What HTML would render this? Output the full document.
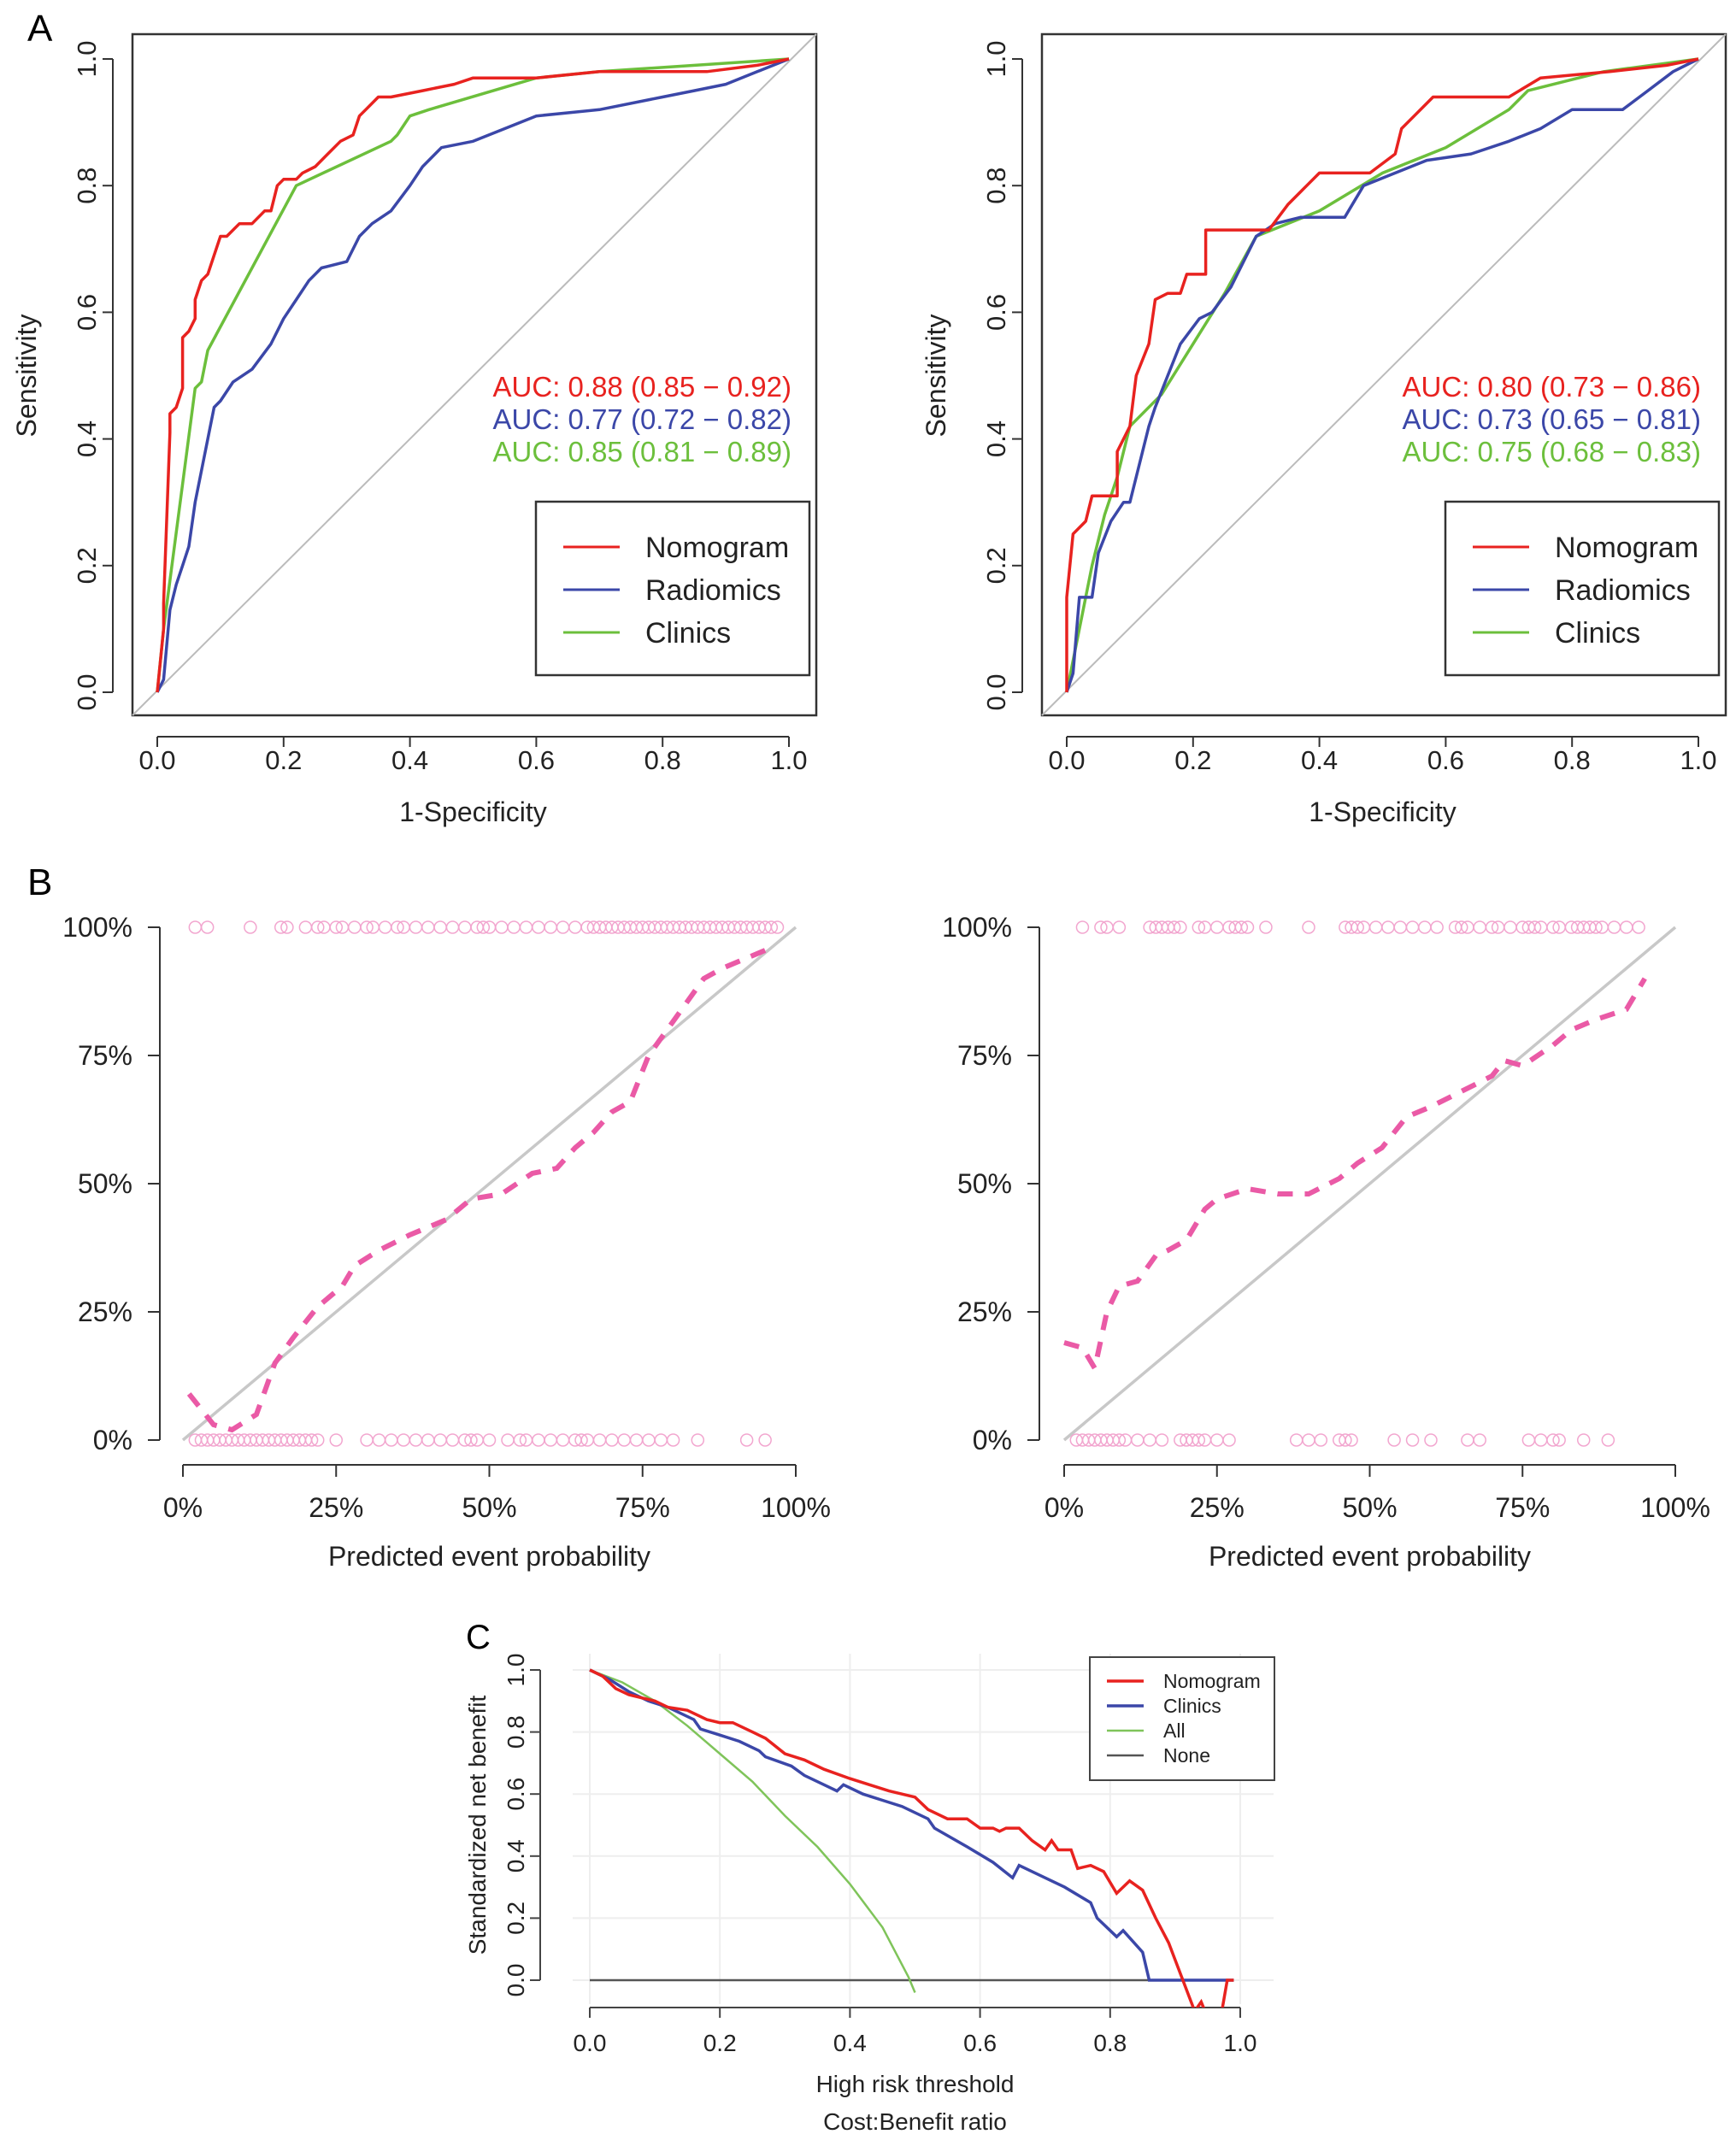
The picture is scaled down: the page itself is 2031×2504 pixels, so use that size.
<!DOCTYPE html>
<html><head><meta charset="utf-8"><style>
body{margin:0;background:#fff;}
svg{display:block;font-family:"Liberation Sans",Arial,sans-serif;}
</style></head><body>
<svg id="fig" width="2031" height="2504" viewBox="0 0 2031 2504" xmlns="http://www.w3.org/2000/svg">
<defs><clipPath id="dcaclip"><rect x="630" y="1930" width="860" height="419"/></clipPath></defs>
<text x="32" y="48" font-size="44">A</text>
<text x="32" y="1047" font-size="44">B</text>
<text x="545" y="1929" font-size="40">C</text>
<g id="g"></g>
</svg>
<script>
// ---------- ROC data ----------
const rocL_nom_x=[0,0.01,0.01,0.02,0.02,0.03,0.04,0.04,0.05,0.06,0.06,0.07,0.08,0.09,0.1,0.11,0.13,0.15,0.17,0.18,0.19,0.2,0.22,0.23,0.25,0.27,0.29,0.31,0.32,0.33,0.35,0.37,0.42,0.47,0.5,0.6,0.7,0.87,0.95,1];
const rocL_nom_y=[0,0.1,0.14,0.41,0.44,0.45,0.48,0.56,0.57,0.59,0.62,0.65,0.66,0.69,0.72,0.72,0.74,0.74,0.76,0.76,0.8,0.81,0.81,0.82,0.83,0.85,0.87,0.88,0.91,0.92,0.94,0.94,0.95,0.96,0.97,0.97,0.98,0.98,0.99,1];
const rocL_rad_x=[0,0.01,0.02,0.03,0.04,0.05,0.06,0.07,0.08,0.09,0.1,0.12,0.15,0.18,0.2,0.22,0.24,0.26,0.3,0.32,0.34,0.37,0.4,0.42,0.45,0.5,0.55,0.6,0.7,0.8,0.85,0.9,0.95,1];
const rocL_rad_y=[0,0.02,0.13,0.17,0.2,0.23,0.3,0.35,0.4,0.45,0.46,0.49,0.51,0.55,0.59,0.62,0.65,0.67,0.68,0.72,0.74,0.76,0.8,0.83,0.86,0.87,0.89,0.91,0.92,0.94,0.95,0.96,0.98,1];
const rocL_cli_x=[0,0.01,0.06,0.07,0.08,0.22,0.37,0.38,0.4,0.43,0.6,0.7,1];
const rocL_cli_y=[0,0.1,0.48,0.49,0.54,0.8,0.87,0.88,0.91,0.92,0.97,0.98,1];
const rocR_nom_x=[0,0,0.01,0.03,0.04,0.08,0.08,0.1,0.11,0.13,0.14,0.16,0.18,0.19,0.22,0.22,0.32,0.35,0.38,0.4,0.48,0.52,0.53,0.55,0.58,0.7,0.75,0.86,0.95,1];
const rocR_nom_y=[0,0.15,0.25,0.27,0.31,0.31,0.38,0.42,0.5,0.55,0.62,0.63,0.63,0.66,0.66,0.73,0.73,0.77,0.8,0.82,0.82,0.85,0.89,0.91,0.94,0.94,0.97,0.98,0.99,1];
const rocR_rad_x=[0,0.01,0.02,0.04,0.05,0.07,0.09,0.1,0.11,0.12,0.13,0.14,0.16,0.18,0.21,0.23,0.26,0.28,0.3,0.33,0.37,0.44,0.47,0.52,0.57,0.64,0.7,0.75,0.8,0.88,0.92,0.96,1];
const rocR_rad_y=[0,0.03,0.15,0.15,0.22,0.27,0.3,0.3,0.34,0.38,0.42,0.45,0.5,0.55,0.59,0.6,0.64,0.68,0.72,0.74,0.75,0.75,0.8,0.82,0.84,0.85,0.87,0.89,0.92,0.92,0.95,0.98,1];
const rocR_cli_x=[0,0.02,0.04,0.06,0.08,0.1,0.15,0.2,0.25,0.3,0.4,0.5,0.6,0.7,0.73,0.85,1];
const rocR_cli_y=[0,0.1,0.2,0.28,0.34,0.42,0.47,0.55,0.63,0.72,0.76,0.82,0.86,0.92,0.95,0.98,1];
const rocTicks=[0,0.2,0.4,0.6,0.8,1.0];
const rocTickLabels=["0.0","0.2","0.4","0.6","0.8","1.0"];
const aucL=["AUC: 0.88 (0.85 − 0.92)","AUC: 0.77 (0.72 − 0.82)","AUC: 0.85 (0.81 − 0.89)"];
const aucR=["AUC: 0.80 (0.73 − 0.86)","AUC: 0.73 (0.65 − 0.81)","AUC: 0.75 (0.68 − 0.83)"];
// ---------- Calibration data ----------
const calL_x=[1,3,5,8,12,15,18,22,26,28,32,37,43,47,52,57,61,64,67,70,73,76,79,82,85,88,92,96];
const calL_y=[9,6,3,2,5,15,20,26,30,34,37,40,43,47,48,52,53,57,60,64,66,75,80,85,90,92,94,96];
const calR_x=[0,3,5,7,9,12,15,17,20,23,25,30,35,40,45,48,52,56,60,65,70,72,75,80,83,87,92,95];
const calR_y=[19,18,14,25,30,31,36,37,39,45,47,49,48,48,51,54,57,63,65,68,71,74,73,77,80,82,84,90];
const rugL_top=[2,4,11,16,17,20,22,23,25,26,28,30,31,33,35,36,38,40,42,44,46,48,49,50,52,54,56,58,60,62,64,66,67,68,69,70,71,72,73,74,75,76,77,78,79,80,81,82,83,84,85,86,87,88,89,90,91,92,93,94,95,96,97];
const rugL_bot=[2,3,4,5,6,7,8,9,10,11,12,13,14,15,16,17,18,19,20,21,22,25,30,32,34,36,38,40,42,44,46,47,48,50,53,55,56,58,60,62,64,65,66,68,70,72,74,76,78,80,84,92,95];
const rugR_top=[3,6,7,9,14,15,16,17,18,19,22,23,25,27,28,29,30,33,40,46,47,48,49,51,53,55,57,59,61,64,65,66,68,70,71,73,75,76,77,78,80,81,83,84,85,86,87,88,90,92,94];
const rugR_bot=[2,3,4,5,6,7,8,9,10,12,14,16,19,20,21,22,23,25,27,38,40,42,45,46,47,54,57,60,66,68,76,78,80,81,85,89];
const calTicks=[0,25,50,75,100];
const calTickLabels=["0%","25%","50%","75%","100%"];
// ---------- DCA data ----------
const dcaNom_x=[0,0.02,0.04,0.06,0.08,0.1,0.12,0.15,0.18,0.2,0.22,0.25,0.27,0.3,0.33,0.36,0.4,0.43,0.46,0.48,0.5,0.52,0.55,0.58,0.6,0.62,0.63,0.64,0.66,0.68,0.7,0.71,0.72,0.74,0.75,0.77,0.79,0.81,0.83,0.85,0.87,0.89,0.91,0.93,0.94,0.95,0.97,0.98,0.99];
const dcaNom_y=[1,0.98,0.94,0.92,0.91,0.9,0.88,0.87,0.84,0.83,0.83,0.8,0.78,0.73,0.71,0.68,0.65,0.63,0.61,0.6,0.59,0.55,0.52,0.52,0.49,0.49,0.48,0.49,0.49,0.45,0.42,0.45,0.42,0.42,0.36,0.37,0.35,0.28,0.32,0.29,0.2,0.12,0.01,-0.1,-0.07,-0.12,-0.12,0,0];
const dcaCli_x=[0,0.03,0.06,0.09,0.12,0.16,0.17,0.2,0.23,0.26,0.27,0.31,0.33,0.37,0.38,0.39,0.42,0.45,0.48,0.52,0.53,0.58,0.62,0.65,0.66,0.7,0.73,0.77,0.78,0.81,0.82,0.85,0.86,0.99];
const dcaCli_y=[1,0.97,0.93,0.9,0.88,0.84,0.81,0.79,0.77,0.74,0.72,0.69,0.66,0.62,0.61,0.63,0.6,0.58,0.56,0.52,0.49,0.43,0.38,0.33,0.37,0.33,0.3,0.25,0.2,0.14,0.16,0.09,0,0];
const dcaAll_x=[0,0.05,0.1,0.15,0.2,0.25,0.3,0.35,0.4,0.45,0.49,0.5];
const dcaAll_y=[1,0.96,0.9,0.82,0.73,0.64,0.53,0.43,0.31,0.17,0.01,-0.04];
const dcaTicks=[0,0.2,0.4,0.6,0.8,1.0];
const dcaTickLabels=["0.0","0.2","0.4","0.6","0.8","1.0"];

const NS="http://www.w3.org/2000/svg";
const G=document.getElementById('g');
function mk(tag,attrs,parent,text){const e=document.createElementNS(NS,tag);for(const k in attrs)e.setAttribute(k,attrs[k]);if(text!==undefined)e.textContent=text;(parent||G).appendChild(e);return e;}
function pathFrom(xs,ys,sx,sy){return xs.map((x,i)=>(i?'L':'M')+sx(x).toFixed(1)+' '+sy(ys[i]).toFixed(1)).join(' ');}

function roc(off,nx,ny,rx,ry,cx,cy,auc,side){
  const sx=v=>184+off+v*739, sy=v=>810-v*741;
  const g=mk('g',{});
  
  
  const box=mk('rect',{x:155+off,y:40,width:800,height:797,fill:'none',stroke:'#333','stroke-width':2.5},g);
  
  const dg=mk('line',{x1:155+off,y1:837,x2:955+off,y2:40,stroke:'#bbb','stroke-width':2},g);
  
  mk('line',{x1:sx(0),y1:862,x2:sx(1),y2:862,stroke:'#333','stroke-width':2},g);
  mk('line',{x1:132+off,y1:sy(0),x2:132+off,y2:sy(1),stroke:'#333','stroke-width':2},g);
  rocTicks.forEach((t,i)=>{
    mk('line',{x1:sx(t),y1:862,x2:sx(t),y2:874,stroke:'#333','stroke-width':2},g);
    const xl=mk('text',{x:sx(t),y:900,'font-size':31,'text-anchor':'middle',fill:'#222'},g,rocTickLabels[i]);
    
    mk('line',{x1:120+off,y1:sy(t),x2:132+off,y2:sy(t),stroke:'#333','stroke-width':2},g);
    const yl=mk('text',{x:0,y:0,'font-size':31,'text-anchor':'middle',fill:'#222',transform:`translate(${112+off},${sy(t)}) rotate(-90)`},g,rocTickLabels[i]);
    
  });
  const xt=mk('text',{x:sx(0.5),y:961,'font-size':32,'text-anchor':'middle',fill:'#222'},g,'1-Specificity');
  
  const yt=mk('text',{x:0,y:0,'font-size':32,'text-anchor':'middle',fill:'#222',transform:`translate(${42+off},${sy(0.5)}) rotate(-90)`},g,'Sensitivity');
  
  const cols=['#e8221f','#3b47a8','#6cbf3c'];
  [[cx,cy,2],[rx,ry,1],[nx,ny,0]].forEach(([xs,ys,c])=>{
    const p=mk('path',{d:pathFrom(xs,ys,sx,sy),fill:'none',stroke:cols[c],'stroke-width':3.5,'stroke-linejoin':'round'},g);
    
    
  });
  auc.forEach((a,i)=>{
    const t=mk('text',{x:926+off,y:464+i*38,'font-size':33,'text-anchor':'end',fill:cols[i]},g,a);
    
  });
  const lg=mk('g',{},g);
  
  mk('rect',{x:627+off,y:587,width:320,height:203,fill:'#fff',stroke:'#333','stroke-width':2.5},lg);
  ['Nomogram','Radiomics','Clinics'].forEach((n,i)=>{
    const y=640+i*50;
    mk('line',{x1:659+off,y1:y,x2:725+off,y2:y,stroke:cols[i],'stroke-width':3},lg);
    const t=mk('text',{x:755+off,y:y+12,'font-size':34,fill:'#222'},lg,n);
    
  });
}
roc(0,rocL_nom_x,rocL_nom_y,rocL_rad_x,rocL_rad_y,rocL_cli_x,rocL_cli_y,aucL,'training');
roc(1064,rocR_nom_x,rocR_nom_y,rocR_rad_x,rocR_rad_y,rocR_cli_x,rocR_cli_y,aucR,'validation');

function cal(x0,x1,yax,cx,cy,top,bot,side){
  const sx=v=>x0+v/100*(x1-x0), sy=v=>1685-v/100*600;
  const g=mk('g',{});
  
  
  mk('line',{x1:sx(0),y1:1714,x2:sx(100),y2:1714,stroke:'#333','stroke-width':2},g);
  mk('line',{x1:yax,y1:sy(0),x2:yax,y2:sy(100),stroke:'#333','stroke-width':2},g);
  calTicks.forEach((t,i)=>{
    mk('line',{x1:sx(t),y1:1714,x2:sx(t),y2:1728,stroke:'#333','stroke-width':2},g);
    const xl=mk('text',{x:sx(t),y:1775,'font-size':32,'text-anchor':'middle',fill:'#222'},g,calTickLabels[i]);
    
    mk('line',{x1:yax-14,y1:sy(t),x2:yax,y2:sy(t),stroke:'#333','stroke-width':2},g);
    const yl=mk('text',{x:yax-32,y:sy(t)+11,'font-size':32,'text-anchor':'end',fill:'#222'},g,calTickLabels[i]);
    
  });
  const xt=mk('text',{x:sx(50),y:1832,'font-size':32,'text-anchor':'middle',fill:'#222'},g,'Predicted event probability');
  
  const dl=mk('line',{x1:sx(0),y1:sy(0),x2:sx(100),y2:sy(100),stroke:'#c8c8c8','stroke-width':3.5},g);
  
  top.forEach(v=>{const c=mk('circle',{cx:sx(v),cy:sy(100),r:7,fill:'none',stroke:'#f2a6cf','stroke-width':1.5},g);
    });
  bot.forEach(v=>{const c=mk('circle',{cx:sx(v),cy:sy(0),r:7,fill:'none',stroke:'#f2a6cf','stroke-width':1.5},g);
    });
  const p=mk('path',{d:pathFrom(cx,cy,sx,sy),fill:'none',stroke:'#ea5aa6','stroke-width':6,'stroke-dasharray':'18 14'},g);
  
}
cal(214,931,187,calL_x,calL_y,rugL_top,rugL_bot,'training');
cal(1245,1960,1216,calR_x,calR_y,rugR_top,rugR_bot,'validation');

(function(){
  const sx=v=>690+v*761, sy=v=>2317-v*363;
  const g=mk('g',{});
  
  
  [0,0.2,0.4,0.6,0.8,1].forEach(t=>{
    mk('line',{x1:sx(0)-20,y1:sy(t),x2:1490,y2:sy(t),stroke:'#eee','stroke-width':2},g);
    mk('line',{x1:sx(t),y1:1935,x2:sx(t),y2:2345,stroke:'#eee','stroke-width':2},g);
  });
  mk('line',{x1:sx(0),y1:2349,x2:sx(1),y2:2349,stroke:'#444','stroke-width':2},g);
  mk('line',{x1:632,y1:sy(0),x2:632,y2:sy(1),stroke:'#444','stroke-width':2},g);
  dcaTicks.forEach((t,i)=>{
    mk('line',{x1:sx(t),y1:2349,x2:sx(t),y2:2361,stroke:'#444','stroke-width':2},g);
    const xl=mk('text',{x:sx(t),y:2400,'font-size':28,'text-anchor':'middle',fill:'#222'},g,dcaTickLabels[i]);
    
    mk('line',{x1:620,y1:sy(t),x2:632,y2:sy(t),stroke:'#444','stroke-width':2},g);
    const yl=mk('text',{x:0,y:0,'font-size':28,'text-anchor':'middle',fill:'#222',transform:`translate(${613},${sy(t)}) rotate(-90)`},g,dcaTickLabels[i]);
    
  });
  const yt=mk('text',{x:0,y:0,'font-size':28,'text-anchor':'middle',fill:'#222',transform:`translate(568,${sy(0.5)}) rotate(-90)`},g,'Standardized net benefit');
  
  const x1=mk('text',{x:sx(0.5),y:2448,'font-size':28,'text-anchor':'middle',fill:'#222'},g,'High risk threshold');
  
  const x2=mk('text',{x:sx(0.5),y:2492,'font-size':28,'text-anchor':'middle',fill:'#222'},g,'Cost:Benefit ratio');
  
  const cg=mk('g',{'clip-path':'url(#dcaclip)'},g);
  const none=mk('line',{x1:sx(0),y1:sy(0),x2:sx(0.99),y2:sy(0),stroke:'#555','stroke-width':2.5},cg);
  
  const pa=mk('path',{d:pathFrom(dcaAll_x,dcaAll_y,sx,sy),fill:'none',stroke:'#7fc45a','stroke-width':2.5},cg);
  
  const pc=mk('path',{d:pathFrom(dcaCli_x,dcaCli_y,sx,sy),fill:'none',stroke:'#3b47a8','stroke-width':3.5},cg);
  
  const pn=mk('path',{d:pathFrom(dcaNom_x,dcaNom_y,sx,sy),fill:'none',stroke:'#e8221f','stroke-width':3.5},cg);
  
  const lg=mk('g',{},g);
  
  mk('rect',{x:1275,y:1939,width:216,height:144,fill:'#fff',stroke:'#444','stroke-width':2},lg);
  const lc=['#e8221f','#3b47a8','#7fc45a','#555'];
  ['Nomogram','Clinics','All','None'].forEach((n,i)=>{
    const y=1967+i*29;
    mk('line',{x1:1295,y1:y,x2:1338,y2:y,stroke:lc[i],'stroke-width':i<2?3.5:2.5},lg);
    const t=mk('text',{x:1361,y:y+8,'font-size':23,fill:'#222'},lg,n);
    
  });
})();
</script>
</body></html>
